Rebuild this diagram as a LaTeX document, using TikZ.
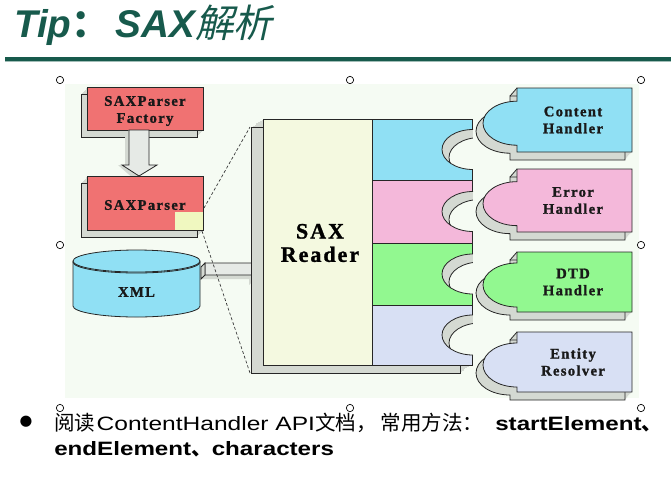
\documentclass[tikz,border=0pt]{standalone}
\usepackage{fontspec}
\setmainfont{Liberation Serif}
\newfontfamily\lbl[LetterSpace=9, FakeBold=1.3]{Liberation Serif}
\newfontfamily\ttl{Liberation Sans}
\newfontfamily\body[UprightFeatures={FakeStretch=1.27}, BoldFeatures={FakeStretch=1.25}]{Liberation Sans}
\newfontfamily\cjk{Noto Sans CJK SC}
\newfontfamily\cjkit[FakeSlant=0.22]{Noto Sans CJK SC}
\newfontfamily\sym{DejaVu Sans}
\definecolor{teal}{HTML}{175A4C}
\definecolor{bg}{HTML}{F5FBF3}
\definecolor{side}{HTML}{D4D9D2}
\definecolor{redbox}{HTML}{F07272}
\definecolor{ylw}{HTML}{F0F8C0}
\definecolor{rdr}{HTML}{F4F9E0}
\definecolor{cblue}{HTML}{90E0F4}
\definecolor{cpink}{HTML}{F4B8DA}
\definecolor{cgreen}{HTML}{92F890}
\definecolor{clav}{HTML}{D8E0F4}
\definecolor{arrowgray}{HTML}{E6EAE6}
\tikzset{
  edge/.style={draw=black!85, line width=0.6pt},
  lbltext/.style={font=\lbl\bfseries\fontsize{11}{12.75}\selectfont, align=center, text=black!90, inner sep=0pt},
  handle/.style={draw=black, fill=white, line width=0.5pt, circle, inner sep=0pt, minimum size=5.5pt},
  dashline/.style={draw=black!80, dashed, dash pattern=on 2.2pt off 1.6pt, line width=0.5pt},
}
% extruded solid: #1 path, #2 front colour, #3 dx, #4 dy
\newcommand\solidshape[4]{%
  \foreach \tt in {1,0.85,0.7,0.55,0.4,0.25,0.1}{%
    \fill[side, shift={(\tt*#3,\tt*#4)}] #1;}
  \draw[edge, shift={(#3,#4)}] #1;
  \fill[#2] #1;
  \draw[edge] #1;
}
\newcommand\zh[1]{{\cjk\fontsize{15.4}{17}\selectfont #1}}
\begin{document}
\begin{tikzpicture}[x=0.75pt,y=-0.75pt]
\useasboundingbox (0,0) rectangle (671,476);
\fill[white] (0,0) rectangle (671,476);
% title
\node[anchor=base west, inner sep=0pt, text=teal] (title) at (14,37)
  {\ttl\bfseries\itshape\fontsize{29}{30}\selectfont Tip{\cjk\bfseries：}\hspace{4pt}SAX{\cjkit\mdseries 解析}};
\fill[teal] (5,57) rectangle (671,60.5);
\fill[teal!40] (5,60.5) rectangle (671,62);
% background panel
\fill[bg] (65,84) rectangle (639,398);

% ---------- SAXParser Factory
\solidshape{(87,87) rectangle (203,130)}{redbox}{-6}{7}
\node[lbltext] (fact) at (145,111) {SAXParser\\Factory};
% hollow down arrow
\fill[side] (129,130) -- (125,134) -- (125,165) -- (118,165) -- (135,180) -- (139,176) -- cycle;
\draw[edge, fill=arrowgray] (129,130) -- (149,130) -- (149,165) -- (157,165) -- (139,176) -- (122,165) -- (129,165) -- cycle;
% ---------- SAXParser
\solidshape{(87,176) rectangle (203,230)}{redbox}{-6}{7}
\fill[ylw] (175,212) rectangle (202.7,229.7);
\node[lbltext] (parser) at (145,205) {SAXParser};
% ---------- XML cylinder
\fill[cblue] (73,261) -- (73,306) arc[start angle=180, end angle=0, x radius=63.5, y radius=11] -- (200,261) -- cycle;
\draw[edge] (73,261) -- (73,306) arc[start angle=180, end angle=0, x radius=63.5, y radius=11] -- (200,261);
\draw[edge, fill=cblue] (136.5,261) ellipse[x radius=63.5, y radius=11];
\draw[edge] (73,262) arc[start angle=180, end angle=0, x radius=63.5, y radius=11];
\node[lbltext] (xml) at (136.5,292) {XML};
% ---------- hollow right arrow
\fill[side] (205,275) -- (201,279) -- (249,279) -- (249,285) -- (253,281) -- (253,275) -- cycle;
\draw[edge, fill=arrowgray] (205,263) -- (253,263) -- (253,256) -- (261,268.5) -- (253,281) -- (253,275) -- (205,275) -- cycle;
\draw[edge, fill=side] (205,263) -- (201,267) -- (201,279) -- (205,275) -- cycle;

% ---------- SAX Reader
\solidshape{(263,119) rectangle (472,365)}{rdr}{-12}{8}
\fill[cblue]  (372,119) rectangle (472,180);
\fill[cpink]  (372,180) rectangle (472,243);
\fill[cgreen] (372,243) rectangle (472,305);
\fill[clav]   (372,305) rectangle (472,365);
\draw[edge] (372,180) -- (472,180) (372,243) -- (472,243) (372,305) -- (472,305);
\draw[edge] (372,119) -- (372,365);
\draw[edge] (263,119) rectangle (472,365);
\foreach \yc in {149.5,211.5,274,335}{
  \fill[side] (473,\yc-20) arc[start angle=270, end angle=90, x radius=31, y radius=20] -- cycle;
  \begin{scope}
    \clip (473,\yc-20) arc[start angle=270, end angle=90, x radius=31, y radius=20] -- cycle;
    \fill[bg] (480,\yc-12) arc[start angle=270, end angle=90, x radius=31, y radius=20] -- cycle;
    \draw[edge] (480,\yc-12) arc[start angle=270, end angle=90, x radius=31, y radius=20];
  \end{scope}
  \draw[edge] (473,\yc-20) arc[start angle=270, end angle=90, x radius=31, y radius=20];
  \fill[bg] (472.5,\yc-20) rectangle (474,\yc+20);
}
\node[font=\lbl\bfseries\fontsize{16.5}{17.5}\selectfont, align=center, inner sep=0pt] (reader) at (320,243) {SAX\\Reader};

% dashed lines
\coordinate (pTop) at (204,208);
\coordinate (pBot) at (202,231);
\coordinate (rTop) at (250,127);
\coordinate (rBot) at (250,373);
\draw[dashline] (pTop) -- (rTop);
\draw[dashline] (pBot) -- (rBot);

% ---------- Handlers
\foreach \tp/\bt/\col/\nm/\txt in {
  88/152/cblue/h1/{Content\\Handler},
  169/232/cpink/h2/{Error\\Handler},
  252/312/cgreen/h3/{DTD\\Handler},
  332/392/clav/h4/{Entity\\Resolver}}{
  \pgfmathsetmacro\yc{\tp+(\bt-\tp)*0.55}
  \solidshape{(632,\tp) -- (517,\tp) -- (517,\yc-22) arc[start angle=270, end angle=90, x radius=34, y radius=22] -- (517,\bt) -- (632,\bt) -- cycle}{\col}{-7}{8}
  \draw[edge] (517,\tp) -- (510,\tp+8);
  \node[lbltext] (\nm) at (573,{(\tp+\bt)/2}) {\txt};
}

% selection handles
\foreach \hx/\hy/\hn in {60/80/s1,350/80/s2,641/80/s3,60/245/s4,641/245/s5,60/408/s6,350/408/s7,641/408/s8}{
  \node[handle] (\hn) at (\hx,\hy) {};
}

% bullet text
\node[inner sep=0pt] (bul) at (26,422) {\sym\fontsize{11}{12}\selectfont ●};
\node[anchor=base west, inner sep=0pt] (line1) at (54,430)
  {\fontsize{14.5}{16}\selectfont\zh{阅读}\hspace{1pt}\body ContentHandler API\zh{文档，}\hspace{3pt}\zh{常用方法：}\hspace{9pt}\bfseries startElement\zh{、}};
\node[anchor=base west, inner sep=0pt] (line2) at (54,455)
  {\fontsize{14.5}{16}\selectfont\body\bfseries endElement\zh{、}characters};
\end{tikzpicture}
\end{document}
